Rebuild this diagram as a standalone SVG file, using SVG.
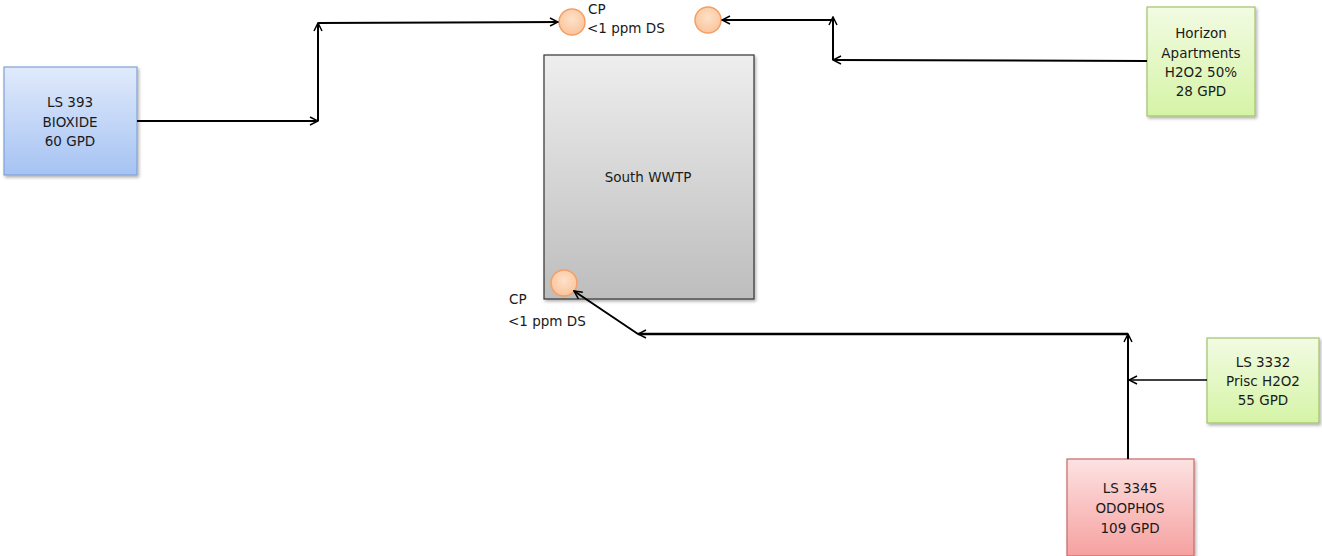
<svg xmlns="http://www.w3.org/2000/svg" width="1322" height="556" viewBox="0 0 1322 556">
<style>
text{font-family:"DejaVu Sans","Liberation Sans",sans-serif;font-size:13.5px;fill:#1a1a1a;}
.c{text-anchor:middle;}
.box{stroke-width:1.2;}
.ln{fill:none;stroke:#000;stroke-width:2;}
.cp{fill:url(#gOrange);stroke:#f2a065;stroke-width:1.5;}
</style>
<defs>
<linearGradient id="gBlue" x1="0" y1="0" x2="0" y2="1"><stop offset="0" stop-color="#e0eafb"/><stop offset="1" stop-color="#a6c3f3"/></linearGradient>
<linearGradient id="gGreen" x1="0" y1="0" x2="0" y2="1"><stop offset="0" stop-color="#f2fbe3"/><stop offset="1" stop-color="#d5f4a6"/></linearGradient>
<linearGradient id="gRed" x1="0" y1="0" x2="0" y2="1"><stop offset="0" stop-color="#fde2e2"/><stop offset="1" stop-color="#f5a1a0"/></linearGradient>
<linearGradient id="gGray" x1="0" y1="0" x2="0" y2="1"><stop offset="0" stop-color="#eeeeee"/><stop offset="1" stop-color="#bdbdbd"/></linearGradient>
<radialGradient id="gOrange" cx="0.5" cy="0.4" r="0.6"><stop offset="0" stop-color="#fde1c9"/><stop offset="1" stop-color="#fbc49a"/></radialGradient>
<filter id="sh" x="-10%" y="-10%" width="130%" height="130%"><feDropShadow dx="1.5" dy="2" stdDeviation="1.5" flood-color="#000" flood-opacity="0.3"/></filter>
<marker id="ar" viewBox="0 0 10 10" refX="9" refY="5" markerWidth="10" markerHeight="10" markerUnits="userSpaceOnUse" orient="auto"><path d="M1,1 L9,5 L1,9" fill="none" stroke="#000" stroke-width="1.5"/></marker>
</defs>

<g id="ls393">
<rect class="box" x="4" y="67" width="133" height="108" fill="url(#gBlue)" stroke="#7fa2d8" filter="url(#sh)"/>
<text class="c" x="70" y="107">LS 393</text>
<text class="c" x="70" y="127">BIOXIDE</text>
<text class="c" x="70" y="146">60 GPD</text>
</g>

<g id="south-wwtp">
<rect class="box" x="544" y="55" width="210" height="244" fill="url(#gGray)" stroke="#333" filter="url(#sh)"/>
<text class="c" x="648" y="182">South WWTP</text>
</g>

<g id="cp-top">
<circle class="cp" cx="572" cy="22" r="13"/>
<text x="588" y="14">CP</text>
<text x="587" y="33">&lt;1 ppm DS</text>
</g>

<g id="cp-top-right">
<circle class="cp" cx="708" cy="20" r="13"/>
</g>

<g id="cp-bottom">
<circle class="cp" cx="564" cy="283" r="13"/>
<text x="509" y="304">CP</text>
<text x="508" y="326">&lt;1 ppm DS</text>
</g>

<g id="horizon">
<rect class="box" x="1147" y="7" width="108" height="109" fill="url(#gGreen)" stroke="#a3c26a" filter="url(#sh)"/>
<text class="c" x="1201" y="38">Horizon</text>
<text class="c" x="1201" y="58">Apartments</text>
<text class="c" x="1201" y="77">H2O2 50%</text>
<text class="c" x="1201" y="96">28 GPD</text>
</g>

<g id="ls3332">
<rect class="box" x="1207" y="338" width="112" height="85" fill="url(#gGreen)" stroke="#a3c26a" filter="url(#sh)"/>
<text class="c" x="1263" y="367">LS 3332</text>
<text class="c" x="1263" y="386">Prisc H2O2</text>
<text class="c" x="1263" y="405">55 GPD</text>
</g>

<g id="ls3345">
<rect class="box" x="1067" y="459" width="127" height="97" fill="url(#gRed)" stroke="#c96a68" filter="url(#sh)"/>
<text class="c" x="1130" y="493">LS 3345</text>
<text class="c" x="1130" y="513">ODOPHOS</text>
<text class="c" x="1130" y="533">109 GPD</text>
</g>

<g id="connectors">
<polyline class="ln" points="137,121 318,121" marker-end="url(#ar)"/>
<polyline class="ln" points="318,121 318,23" marker-end="url(#ar)"/>
<polyline class="ln" points="318,23 558,22" marker-end="url(#ar)"/>
<polyline class="ln" points="1147,61 833,60" marker-end="url(#ar)"/>
<polyline class="ln" points="833,60 833,17" marker-end="url(#ar)"/>
<polyline class="ln" points="833,20 722,20" marker-end="url(#ar)"/>
<polyline class="ln" points="1128,459 1128,334" marker-end="url(#ar)"/>
<polyline class="ln" points="1207,380 1129,380" style="stroke-width:1.5" marker-end="url(#ar)"/>
<polyline class="ln" points="1128,334 638,334" style="stroke-width:2.5" marker-end="url(#ar)"/>
<polyline class="ln" points="638,334 574,291" marker-end="url(#ar)"/>
</g>
</svg>
